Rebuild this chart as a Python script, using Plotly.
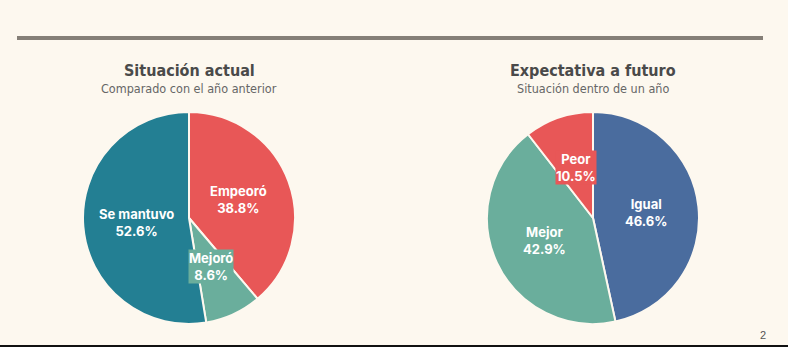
import math
import plotly.graph_objects as go

# Survey results: current situation vs. one-year outlook
actual_labels = ["Empeoró", "Mejoró", "Se mantuvo"]
actual_values = [38.8, 8.6, 52.6]
actual_colors = ["#E85757", "#6AAE9C", "#237F93"]

futuro_labels = ["Igual", "Mejor", "Peor"]
futuro_values = [46.6, 42.9, 10.5]
futuro_colors = ["#4A6C9E", "#6AAE9C", "#E85757"]

W, H = 788, 347
BG = "#FDF8EF"
R = 106


def px_x(v):
    return v / W


def px_y(v):
    return 1 - v / H


def pie(labels, values, colors, cx, cy, name):
    return go.Pie(
        labels=labels,
        values=values,
        name=name,
        sort=False,
        direction="clockwise",
        rotation=0,
        marker=dict(colors=colors, line=dict(color=BG, width=2)),
        textinfo="none",
        showlegend=False,
        hoverinfo="label+value",
        domain=dict(x=[px_x(cx - R), px_x(cx + R)], y=[px_y(cy + R), px_y(cy - R)]),
    )


label_font = dict(family="Inter", size=13, color="white", weight="bold")


def slice_labels(labels, values, colors, cx, cy):
    """Two-line labels placed halfway out along each slice's middle angle."""
    out = []
    total = sum(values)
    start = 0.0
    for lab, val, col in zip(labels, values, colors):
        mid = (start + val / 2) / total * 2 * math.pi
        start += val
        x = cx + 0.5 * R * math.sin(mid)
        y = cy - 0.5 * R * math.cos(mid)
        # small slices get a filled box so the text stays readable over neighbours
        bg = col if val / total < 0.15 else None
        out.append(dict(text=f"{lab}<br>{val:.1f}%", x=px_x(x), y=px_y(y), font=label_font,
                        bgcolor=bg, borderpad=0))
    return out


fig = go.Figure()
fig.add_trace(pie(actual_labels, actual_values, actual_colors, 189, 218, "Situación actual"))
fig.add_trace(pie(futuro_labels, futuro_values, futuro_colors, 593, 218, "Expectativa a futuro"))

title_font = dict(family="DejaVu Sans Condensed, sans-serif", size=16,
                  color="#4A4A4A", weight="bold")
sub_font = dict(family="DejaVu Sans Condensed, sans-serif", size=12.5,
                color="#666666")

annotations = [
    dict(text="Situación actual", x=px_x(189), y=px_y(70), font=title_font),
    dict(text="Comparado con el año anterior", x=px_x(189), y=px_y(88), font=sub_font),
    dict(text="Expectativa a futuro", x=px_x(593), y=px_y(70), font=title_font),
    dict(text="Situación dentro de un año", x=px_x(593), y=px_y(88), font=sub_font),
    dict(text="2", x=px_x(763), y=px_y(335), font=dict(family="Liberation Sans", size=11, color="#555555")),
]
annotations += slice_labels(actual_labels, actual_values, actual_colors, 189, 218)
annotations += slice_labels(futuro_labels, futuro_values, futuro_colors, 593, 218)
for a in annotations:
    a.update(xref="paper", yref="paper", showarrow=False, xanchor="center", yanchor="middle")

fig.update_layout(
    width=W,
    height=H,
    margin=dict(l=0, r=0, t=0, b=0),
    paper_bgcolor=BG,
    plot_bgcolor=BG,
    annotations=annotations,
    shapes=[
        dict(type="rect", xref="paper", yref="paper", x0=px_x(17), x1=px_x(763),
             y0=px_y(40), y1=px_y(36), fillcolor="#857F77", line=dict(width=0)),
        dict(type="rect", xref="paper", yref="paper", x0=0, x1=1,
             y0=0, y1=px_y(345), fillcolor="#111111", line=dict(width=0)),
    ],
)

fig.write_html("out.html")
